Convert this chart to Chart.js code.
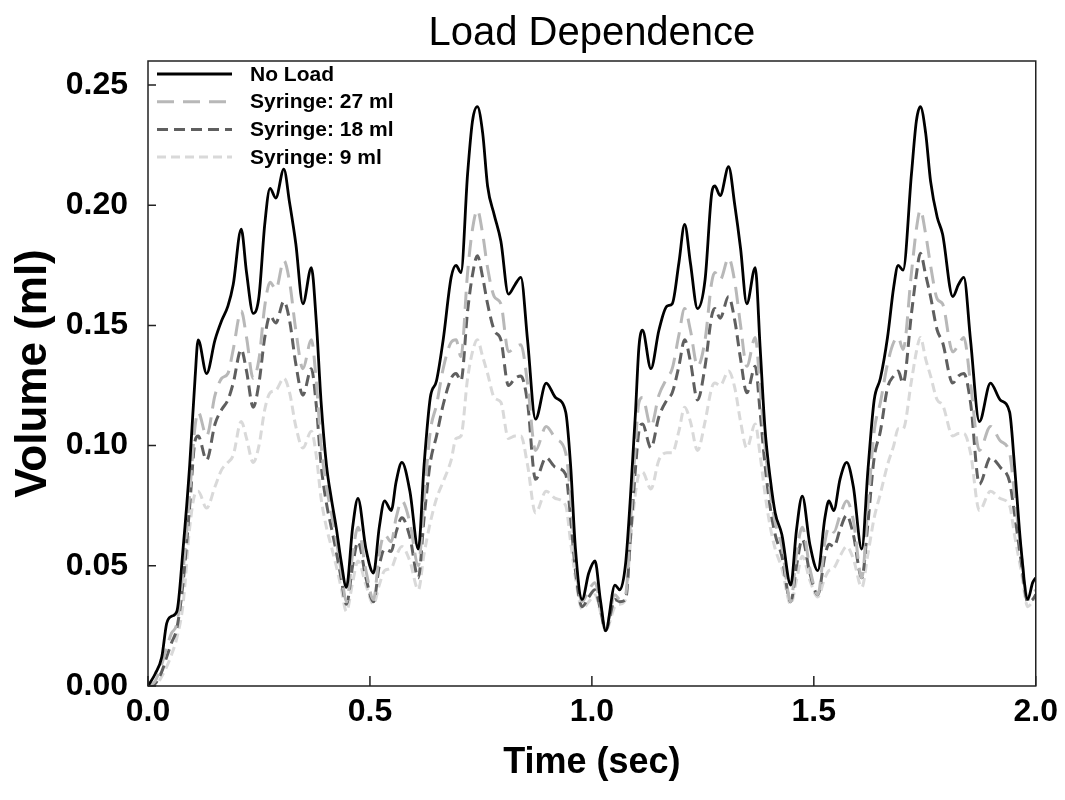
<!DOCTYPE html>
<html>
<head>
<meta charset="utf-8">
<title>Load Dependence</title>
<script src="https://cdn.jsdelivr.net/npm/chart.js@4.4.1/dist/chart.umd.min.js"></script>
<style>
  html, body { margin: 0; padding: 0; background: #fff; }
  #wrap { width: 1065px; height: 800px; }
</style>
</head>
<body>
<div id="wrap"><canvas id="loadChart" width="1065" height="800"></canvas></div>
<script>
// time points (sec), shared by every trace
const timeSec = [
  0.000, 0.016, 0.031, 0.042, 0.053, 0.065, 0.079, 0.094, 0.106, 0.113,
  0.132, 0.151, 0.166, 0.180, 0.192, 0.210, 0.222, 0.237, 0.250, 0.263,
  0.275, 0.288, 0.306, 0.319, 0.333, 0.349, 0.368, 0.379, 0.390, 0.402,
  0.413, 0.424, 0.435, 0.447, 0.461, 0.473, 0.491, 0.508, 0.521, 0.533,
  0.548, 0.559, 0.572, 0.590, 0.609, 0.622, 0.636, 0.650, 0.665, 0.683,
  0.694, 0.705, 0.720, 0.731, 0.742, 0.754, 0.765, 0.780, 0.795, 0.812,
  0.827, 0.840, 0.855, 0.873, 0.897, 0.918, 0.941, 0.952, 0.963, 0.978,
  0.993, 1.007, 1.019, 1.031, 1.052, 1.063, 1.076, 1.087, 1.098, 1.106,
  1.114, 1.133, 1.151, 1.169, 1.181, 1.196, 1.209, 1.222, 1.238, 1.255,
  1.270, 1.277, 1.289, 1.308, 1.322, 1.335, 1.349, 1.368, 1.379, 1.390,
  1.402, 1.413, 1.428, 1.448, 1.461, 1.474, 1.491, 1.509, 1.525, 1.534,
  1.545, 1.559, 1.574, 1.589, 1.608, 1.622, 1.636, 1.650, 1.666, 1.680,
  1.690, 1.701, 1.720, 1.731, 1.740, 1.752, 1.763, 1.778, 1.790, 1.813,
  1.826, 1.838, 1.853, 1.873, 1.898, 1.920, 1.941, 1.952, 1.967, 1.982,
  1.993, 2.000
];

// volume (ml) for each condition
const noLoad = [
  0.000, 0.005, 0.012, 0.026, 0.029, 0.031, 0.057, 0.092, 0.128, 0.144,
  0.130, 0.144, 0.152, 0.158, 0.167, 0.190, 0.172, 0.155, 0.162, 0.192,
  0.207, 0.203, 0.215, 0.201, 0.184, 0.159, 0.174, 0.152, 0.118, 0.092,
  0.078, 0.066, 0.052, 0.041, 0.066, 0.078, 0.057, 0.047, 0.066, 0.077,
  0.073, 0.085, 0.093, 0.081, 0.057, 0.092, 0.120, 0.127, 0.144, 0.170,
  0.175, 0.172, 0.213, 0.235, 0.241, 0.230, 0.208, 0.196, 0.185, 0.163,
  0.167, 0.170, 0.144, 0.111, 0.126, 0.120, 0.114, 0.092, 0.057, 0.036,
  0.047, 0.052, 0.036, 0.023, 0.042, 0.040, 0.051, 0.079, 0.113, 0.141,
  0.148, 0.132, 0.148, 0.158, 0.159, 0.176, 0.192, 0.176, 0.157, 0.169,
  0.205, 0.208, 0.204, 0.216, 0.200, 0.182, 0.159, 0.174, 0.141, 0.107,
  0.086, 0.072, 0.063, 0.042, 0.065, 0.079, 0.059, 0.048, 0.070, 0.077,
  0.073, 0.086, 0.093, 0.083, 0.057, 0.090, 0.119, 0.128, 0.145, 0.166,
  0.175, 0.173, 0.213, 0.235, 0.241, 0.230, 0.210, 0.195, 0.188, 0.162,
  0.167, 0.170, 0.144, 0.110, 0.126, 0.119, 0.114, 0.092, 0.057, 0.036,
  0.043, 0.045
];
const syringe27 = [
  0.000, 0.002, 0.009, 0.016, 0.022, 0.026, 0.048, 0.080, 0.108, 0.114,
  0.104, 0.121, 0.128, 0.130, 0.140, 0.156, 0.145, 0.128, 0.136, 0.158,
  0.168, 0.165, 0.177, 0.168, 0.148, 0.132, 0.144, 0.127, 0.100, 0.083,
  0.072, 0.061, 0.048, 0.035, 0.055, 0.066, 0.048, 0.036, 0.055, 0.063,
  0.060, 0.070, 0.077, 0.068, 0.050, 0.078, 0.106, 0.117, 0.132, 0.143,
  0.144, 0.137, 0.172, 0.190, 0.198, 0.188, 0.174, 0.162, 0.159, 0.139,
  0.141, 0.142, 0.126, 0.098, 0.108, 0.103, 0.097, 0.079, 0.052, 0.035,
  0.040, 0.043, 0.034, 0.024, 0.038, 0.036, 0.038, 0.068, 0.100, 0.118,
  0.120, 0.108, 0.121, 0.128, 0.132, 0.146, 0.157, 0.148, 0.133, 0.144,
  0.168, 0.172, 0.169, 0.178, 0.168, 0.150, 0.133, 0.145, 0.124, 0.100,
  0.080, 0.068, 0.058, 0.035, 0.055, 0.066, 0.049, 0.038, 0.060, 0.066,
  0.064, 0.071, 0.077, 0.069, 0.045, 0.075, 0.106, 0.118, 0.134, 0.143,
  0.145, 0.140, 0.172, 0.190, 0.198, 0.188, 0.175, 0.161, 0.159, 0.139,
  0.142, 0.145, 0.126, 0.098, 0.108, 0.102, 0.097, 0.080, 0.056, 0.036,
  0.038, 0.040
];
const syringe18 = [
  0.000, 0.001, 0.006, 0.012, 0.018, 0.024, 0.043, 0.075, 0.102, 0.104,
  0.094, 0.109, 0.115, 0.119, 0.126, 0.140, 0.131, 0.116, 0.126, 0.145,
  0.154, 0.151, 0.160, 0.152, 0.134, 0.121, 0.132, 0.117, 0.092, 0.076,
  0.066, 0.056, 0.045, 0.034, 0.050, 0.060, 0.045, 0.035, 0.050, 0.057,
  0.056, 0.064, 0.070, 0.062, 0.045, 0.070, 0.093, 0.104, 0.117, 0.128,
  0.130, 0.127, 0.156, 0.171, 0.179, 0.170, 0.159, 0.148, 0.144, 0.125,
  0.128, 0.129, 0.118, 0.086, 0.095, 0.091, 0.088, 0.070, 0.048, 0.033,
  0.037, 0.040, 0.032, 0.023, 0.036, 0.035, 0.036, 0.062, 0.090, 0.106,
  0.109, 0.099, 0.112, 0.119, 0.122, 0.133, 0.144, 0.135, 0.119, 0.133,
  0.154, 0.157, 0.153, 0.162, 0.152, 0.136, 0.122, 0.133, 0.114, 0.092,
  0.074, 0.063, 0.054, 0.035, 0.050, 0.061, 0.047, 0.038, 0.054, 0.059,
  0.058, 0.065, 0.071, 0.063, 0.045, 0.068, 0.095, 0.106, 0.124, 0.129,
  0.131, 0.126, 0.155, 0.171, 0.180, 0.171, 0.162, 0.148, 0.143, 0.126,
  0.129, 0.130, 0.118, 0.084, 0.095, 0.091, 0.085, 0.072, 0.052, 0.035,
  0.036, 0.038
];
const syringe9 = [
  0.000, 0.000, 0.004, 0.008, 0.013, 0.020, 0.034, 0.066, 0.080, 0.081,
  0.074, 0.083, 0.090, 0.093, 0.096, 0.110, 0.103, 0.093, 0.100, 0.115,
  0.122, 0.123, 0.128, 0.122, 0.108, 0.099, 0.106, 0.096, 0.078, 0.066,
  0.058, 0.050, 0.041, 0.031, 0.043, 0.052, 0.042, 0.034, 0.042, 0.048,
  0.049, 0.054, 0.058, 0.052, 0.040, 0.055, 0.068, 0.078, 0.085, 0.094,
  0.103, 0.104, 0.128, 0.139, 0.144, 0.137, 0.130, 0.120, 0.118, 0.103,
  0.104, 0.104, 0.092, 0.072, 0.081, 0.078, 0.075, 0.060, 0.045, 0.032,
  0.035, 0.038, 0.031, 0.023, 0.033, 0.034, 0.036, 0.060, 0.080, 0.088,
  0.089, 0.082, 0.094, 0.097, 0.097, 0.106, 0.116, 0.110, 0.098, 0.110,
  0.124, 0.126, 0.125, 0.131, 0.124, 0.110, 0.099, 0.109, 0.096, 0.080,
  0.066, 0.057, 0.049, 0.034, 0.044, 0.054, 0.044, 0.037, 0.045, 0.048,
  0.049, 0.054, 0.058, 0.053, 0.041, 0.055, 0.070, 0.080, 0.092, 0.100,
  0.107, 0.107, 0.127, 0.139, 0.145, 0.136, 0.129, 0.119, 0.117, 0.104,
  0.105, 0.105, 0.097, 0.073, 0.081, 0.078, 0.075, 0.063, 0.048, 0.033,
  0.035, 0.036
];

const seriesNames = ['No Load', 'Syringe: 27 ml', 'Syringe: 18 ml', 'Syringe: 9 ml'];
const seriesValues = [noLoad, syringe27, syringe18, syringe9];
const seriesColors = ['#000000', '#b8b8b8', '#5f5f5f', '#d9d9d9'];
const seriesDash = [[], [17, 9], [11, 6], [9, 5]];

const xTicks = [0, 0.5, 1.0, 1.5, 2.0];
const yTicks = [0, 0.05, 0.10, 0.15, 0.20, 0.25];

const fontFam = '"Liberation Sans", Arial, Helvetica, sans-serif';

// zip time + values into points
function toPoints(values) {
  return timeSec.map((t, i) => ({ x: t, y: values[i] }));
}

// box around the plot and inward tick marks
const frameTicks = {
  id: 'frameTicks',
  afterDatasetsDraw(chart) {
    const { ctx, chartArea: a, scales } = chart;
    ctx.save();
    ctx.strokeStyle = '#222';
    ctx.lineWidth = 1.5;
    ctx.strokeRect(a.left, a.top, a.right - a.left, a.bottom - a.top);
    ctx.beginPath();
    xTicks.forEach(v => {
      const px = scales.x.getPixelForValue(v);
      ctx.moveTo(px, a.bottom);
      ctx.lineTo(px, a.bottom - 10);
    });
    yTicks.forEach(v => {
      const py = scales.y.getPixelForValue(v);
      ctx.moveTo(a.left, py);
      ctx.lineTo(a.left + 8, py);
    });
    ctx.stroke();
    ctx.restore();
  }
};

// legend drawn inside the top-left corner of the plot
const insideLegend = {
  id: 'insideLegend',
  afterDatasetsDraw(chart) {
    const { ctx, chartArea: a } = chart;
    ctx.save();
    ctx.font = 'bold 21px ' + fontFam;
    ctx.textBaseline = 'middle';
    chart.data.datasets.forEach((ds, i) => {
      const y = a.top + 13 + i * 27.7;
      ctx.strokeStyle = ds.borderColor;
      ctx.lineWidth = ds.borderWidth;
      ctx.setLineDash(ds.borderDash);
      ctx.beginPath();
      ctx.moveTo(a.left + 9, y);
      ctx.lineTo(a.left + 84, y);
      ctx.stroke();
      ctx.setLineDash([]);
      ctx.fillStyle = '#000';
      ctx.fillText(ds.label, a.left + 102, y + 1);
    });
    ctx.restore();
  }
};

const ctx = document.getElementById('loadChart').getContext('2d');
const loadChart = new Chart(ctx, {
  type: 'line',
  data: {
    datasets: seriesNames.map((name, i) => ({
      label: name,
      data: toPoints(seriesValues[i]),
      borderColor: seriesColors[i],
      backgroundColor: seriesColors[i],
      borderDash: seriesDash[i],
      borderWidth: i === 0 ? 2.8 : 3,
      pointRadius: 0,
      cubicInterpolationMode: 'monotone',
      fill: false
    }))
  },
  options: {
    responsive: false,
    animation: false,
    events: [],
    layout: { padding: { left: 0, right: 27, top: 0, bottom: 0 } },
    scales: {
      x: {
        type: 'linear',
        min: 0,
        max: 2,
        grid: { display: false, drawTicks: false },
        border: { display: false },
        afterBuildTicks: s => { s.ticks = xTicks.map(v => ({ value: v })); },
        afterFit: s => { s.height = 114; },
        ticks: {
          padding: 7,
          color: '#000',
          font: { family: fontFam, size: 32, weight: 'bold' },
          callback: v => Number(v).toFixed(1)
        },
        title: {
          display: true,
          text: 'Time (sec)',
          color: '#000',
          font: { family: fontFam, size: 36, weight: 'bold' },
          padding: { top: 0, bottom: 15 }
        }
      },
      y: {
        type: 'linear',
        min: 0,
        max: 0.26,
        grid: { display: false, drawTicks: false },
        border: { display: false },
        afterBuildTicks: s => { s.ticks = yTicks.map(v => ({ value: v })); },
        afterFit: s => { s.width = 148; },
        ticks: {
          padding: 20,
          color: '#000',
          font: { family: fontFam, size: 32, weight: 'bold' },
          callback: v => Number(v).toFixed(2)
        },
        title: {
          display: true,
          text: 'Volume (ml)',
          color: '#000',
          font: { family: fontFam, size: 44, weight: 'bold' },
          padding: { top: 7, bottom: 0 }
        }
      }
    },
    plugins: {
      title: {
        display: true,
        text: 'Load Dependence',
        fullSize: false,
        color: '#000',
        font: { family: fontFam, size: 40, weight: 'normal' },
        padding: { top: 10, bottom: 3 }
      },
      legend: { display: false },
      tooltip: { enabled: false }
    }
  },
  plugins: [frameTicks, insideLegend]
});
</script>
</body>
</html>
